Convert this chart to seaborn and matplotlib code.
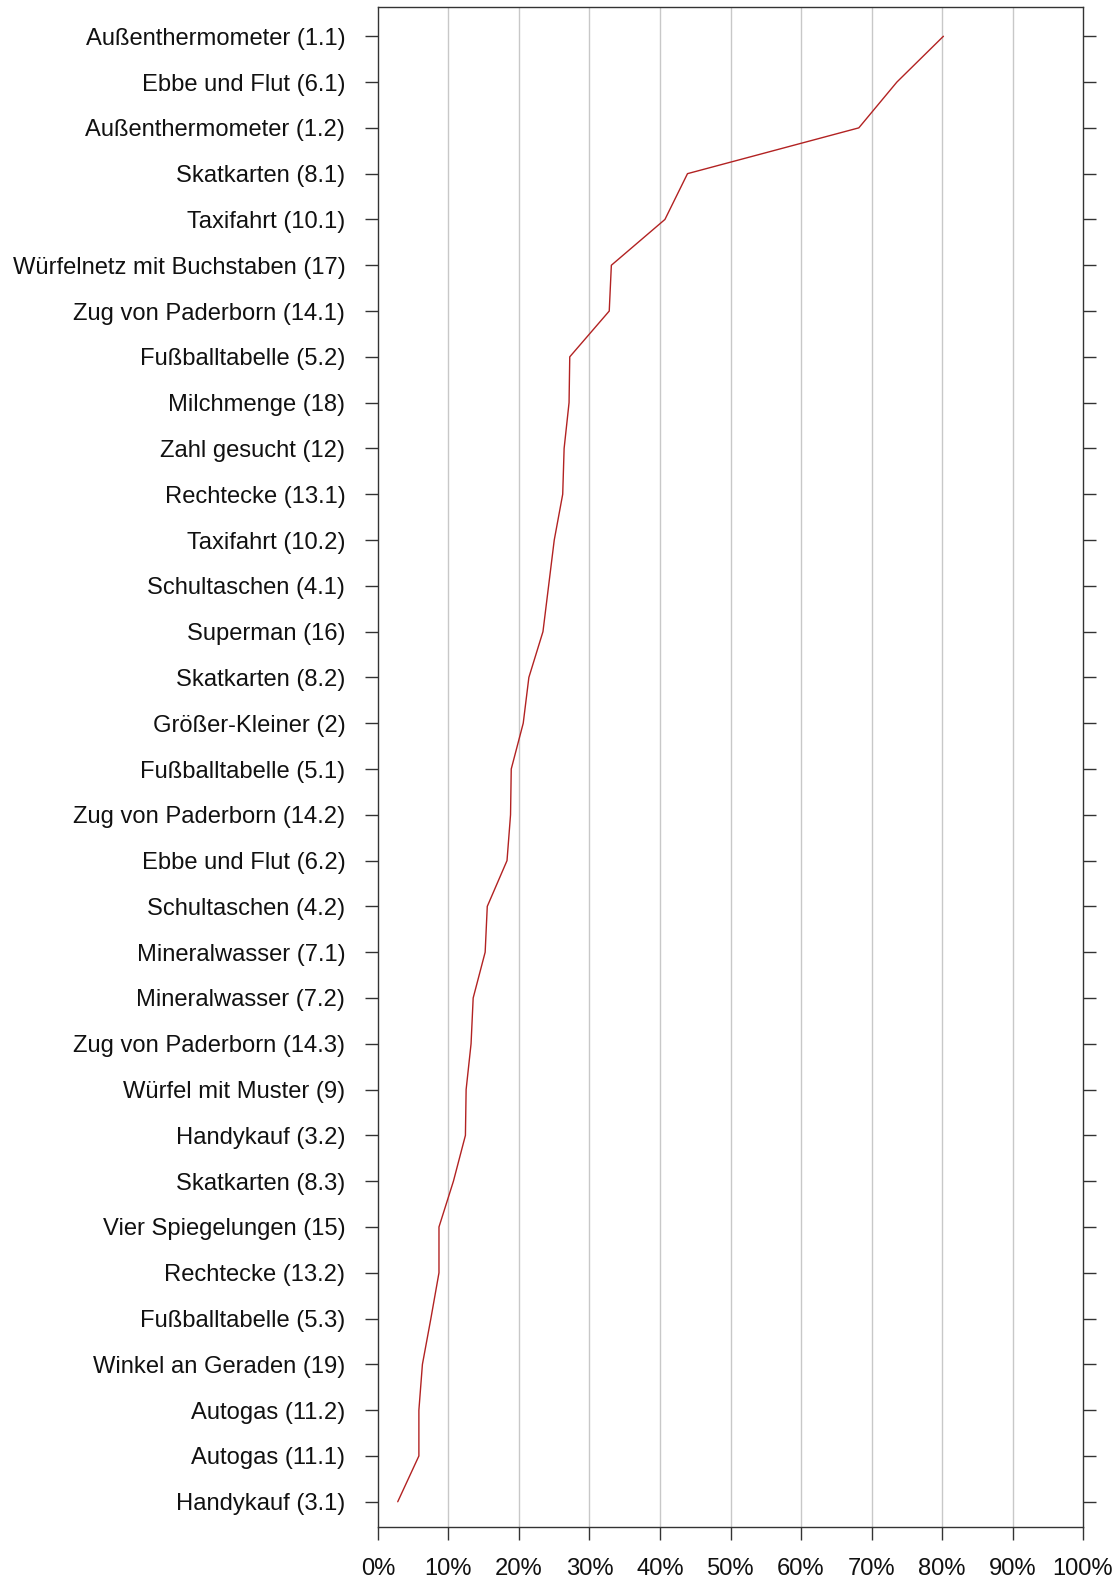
import numpy as np
import pandas as pd
import matplotlib
matplotlib.use("Agg")
import matplotlib.pyplot as plt
import seaborn as sns

categories = [
    "Außenthermometer (1.1)", "Ebbe und Flut (6.1)", "Außenthermometer (1.2)",
    "Skatkarten (8.1)", "Taxifahrt (10.1)", "Würfelnetz mit Buchstaben (17)",
    "Zug von Paderborn (14.1)", "Fußballtabelle (5.2)", "Milchmenge (18)",
    "Zahl gesucht (12)", "Rechtecke (13.1)", "Taxifahrt (10.2)",
    "Schultaschen (4.1)", "Superman (16)", "Skatkarten (8.2)",
    "Größer-Kleiner (2)", "Fußballtabelle (5.1)", "Zug von Paderborn (14.2)",
    "Ebbe und Flut (6.2)", "Schultaschen (4.2)", "Mineralwasser (7.1)",
    "Mineralwasser (7.2)", "Zug von Paderborn (14.3)", "Würfel mit Muster (9)",
    "Handykauf (3.2)", "Skatkarten (8.3)", "Vier Spiegelungen (15)",
    "Rechtecke (13.2)", "Fußballtabelle (5.3)", "Winkel an Geraden (19)",
    "Autogas (11.2)", "Autogas (11.1)", "Handykauf (3.1)",
]
values = [
    80.2, 73.6, 68.2, 43.9, 40.7, 33.1, 32.8, 27.2, 27.1, 26.4, 26.2, 25.0,
    24.2, 23.4, 21.4, 20.6, 18.9, 18.8, 18.3, 15.5, 15.2, 13.5, 13.2, 12.5,
    12.4, 10.7, 8.65, 8.65, 7.5, 6.3, 5.8, 5.8, 2.8,
]
x_ticks = [0, 10, 20, 30, 40, 50, 60, 70, 80, 90, 100]
x_tick_labels = [f"{t}%" for t in x_ticks]

sns.set_theme(style="white")
plt.rcParams["font.family"] = ["Liberation Sans", "DejaVu Sans"]

n = len(categories)
df = pd.DataFrame({"cat": categories, "value": values, "pos": np.arange(n)})

fig = plt.figure(figsize=(11.18, 15.81), dpi=100)
ax = fig.add_axes([0.3381, 0.0342, 0.9687 - 0.3381, 0.9956 - 0.0342])

for t in x_ticks[1:-1]:
    ax.axvline(t, color="#c8c8c8", lw=1.0, zorder=0)

sns.lineplot(data=df, x="value", y="pos", sort=False, estimator=None,
             color="#b22222", lw=1.0, ax=ax)

ax.set_xlim(0, 100)
ax.set_ylim(n - 1 + 0.55, -0.64)
ax.set_yticks(np.arange(n))
ax.set_yticklabels(categories)
ax.set_xticks(x_ticks)
ax.set_xticklabels(x_tick_labels)
ax.set_xlabel("")
ax.set_ylabel("")

for s in ax.spines.values():
    s.set_visible(True)
    s.set_color("#333333")
    s.set_linewidth(1.0)

ax.tick_params(axis="y", left=True, right=True, direction="out", length=9.5,
               width=1.0, color="#333333", labelsize=17.1, pad=14,
               labelcolor="#111111")
ax.tick_params(axis="x", bottom=True, top=False, direction="out", length=9.5,
               width=1.0, color="#333333", labelsize=17.1, pad=13,
               labelcolor="#111111")

fig.savefig("out.png", dpi=100)
